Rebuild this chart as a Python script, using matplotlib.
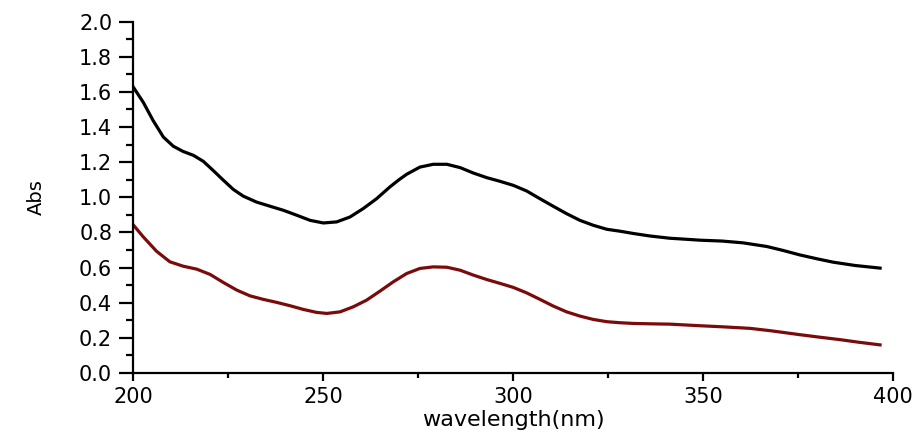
import numpy as np
import matplotlib
matplotlib.use("Agg")
import matplotlib.pyplot as plt
from matplotlib.ticker import MultipleLocator, FormatStrFormatter

# spectra (wavelength in nm, absorbance)
wl_top = [200, 202.7, 205.3, 208, 210.6, 213.2, 215.9, 218.5, 221.1, 223.8,
          226.4, 229, 232.5, 236.1, 239.6, 243.1, 246.6, 250.1, 253.6, 257.1,
          260.6, 264.1, 267.6, 270, 272, 275.5, 279, 282.6, 286.1, 289.6,
          293.1, 296.6, 300.1, 303.6, 307.1, 310.6, 314.1, 317.6, 321.1, 324.7,
          328.2, 331.7, 336, 341.3, 345, 349.2, 355, 360.5, 366.8, 371,
          375.5, 380, 384.2, 390, 396.6]
abs_top = [1.63, 1.541, 1.437, 1.343, 1.291, 1.261, 1.239, 1.205, 1.153, 1.097,
           1.045, 1.007, 0.973, 0.949, 0.926, 0.898, 0.869, 0.854, 0.86, 0.888,
           0.936, 0.992, 1.059, 1.10, 1.131, 1.172, 1.188, 1.188, 1.169, 1.138,
           1.112, 1.091, 1.068, 1.036, 0.992, 0.949, 0.907, 0.869, 0.841, 0.818,
           0.807, 0.794, 0.78, 0.767, 0.762, 0.756, 0.751, 0.741, 0.72, 0.698,
           0.672, 0.65, 0.631, 0.612, 0.597]

wl_bot = [200, 202.7, 206.2, 209.7, 213.2, 216.8, 220.3, 223.8, 227.3, 230.8,
          234.3, 237.8, 241.3, 244.8, 248.3, 251, 254.5, 258, 261.5, 265,
          268.5, 272, 275.5, 279, 282.6, 286.1, 289.6, 293.1, 296.6, 300.1,
          303.6, 307.1, 310.6, 314.1, 317.6, 321.1, 324.7, 328.2, 331.7, 336,
          341.3, 349.2, 355, 362.4, 368, 375.5, 381, 386, 391, 396.6]
abs_bot = [0.845, 0.775, 0.693, 0.633, 0.608, 0.591, 0.561, 0.515, 0.472, 0.439,
           0.419, 0.402, 0.383, 0.362, 0.345, 0.339, 0.348, 0.377, 0.415, 0.466,
           0.519, 0.566, 0.595, 0.604, 0.602, 0.585, 0.557, 0.532, 0.51, 0.487,
           0.456, 0.419, 0.381, 0.348, 0.324, 0.305, 0.292, 0.286, 0.282, 0.28,
           0.278, 0.269, 0.263, 0.254, 0.24, 0.218, 0.203, 0.19, 0.175, 0.16]

TOP_COLOR = "#000000"
BOT_COLOR = "#7a0b0b"
FONT = "DejaVu Sans"

fig = plt.figure(figsize=(9.19, 4.33), dpi=100)
ax = fig.add_axes([0.1447, 0.1386, 0.9717 - 0.1447, 0.950 - 0.1386])

ax.plot(wl_top, abs_top, color=TOP_COLOR, lw=2.3, solid_joinstyle="round")
ax.plot(wl_bot, abs_bot, color=BOT_COLOR, lw=2.3, solid_joinstyle="round")

ax.set_xlim(200, 400)
ax.set_ylim(0, 2.0)
ax.xaxis.set_major_locator(MultipleLocator(50))
ax.xaxis.set_minor_locator(MultipleLocator(25))
ax.yaxis.set_major_locator(MultipleLocator(0.2))
ax.yaxis.set_minor_locator(MultipleLocator(0.1))
ax.yaxis.set_major_formatter(FormatStrFormatter("%.1f"))

for s in ("top", "right"):
    ax.spines[s].set_visible(False)
for s in ("left", "bottom"):
    ax.spines[s].set_linewidth(1.6)

ax.tick_params(axis="y", which="major", direction="out", length=10, width=1.6, pad=5)
ax.tick_params(axis="y", which="minor", direction="out", length=5, width=1.6)
ax.tick_params(axis="x", which="major", direction="out", length=6, width=1.6, pad=4)
ax.tick_params(axis="x", which="minor", direction="out", length=3.5, width=1.6)
for lab in ax.get_xticklabels() + ax.get_yticklabels():
    lab.set_fontfamily(FONT)
    lab.set_fontsize(15)

ax.set_xlabel("wavelength(nm)", fontsize=16, family=FONT, labelpad=2)
ax.set_ylabel("Abs", fontsize=14, family=FONT, labelpad=24)

fig.savefig("out.png", dpi=100)
plt.close(fig)
